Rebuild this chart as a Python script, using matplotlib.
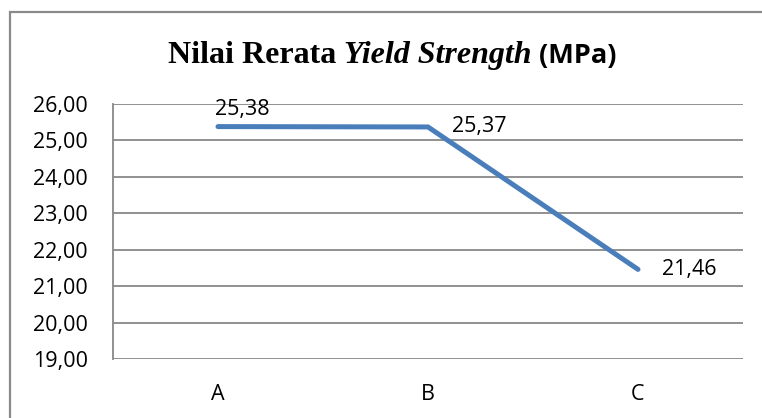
import matplotlib
matplotlib.use("Agg")
import matplotlib.pyplot as plt
from matplotlib.patches import Rectangle

categories = ["A", "B", "C"]
values = [25.38, 25.37, 21.46]
y_ticks = [19, 20, 21, 22, 23, 24, 25, 26]


def comma(v):
    return ("%.2f" % v).replace(".", ",")


fig = plt.figure(figsize=(7.62, 4.18), dpi=100)
ax = fig.add_axes([113 / 762, 1 - 359 / 418, 630 / 762, 255 / 418])

x = list(range(len(categories)))
ax.plot(x, values, color="#4A7EBB", lw=3.6, solid_capstyle="round", solid_joinstyle="miter", zorder=3)

ax.set_xlim(-0.5, len(categories) - 0.5)
ax.set_ylim(min(y_ticks), max(y_ticks))
ax.set_yticks(y_ticks)
ax.set_yticklabels([comma(t) for t in y_ticks])
ax.set_xticks(x)
ax.set_xticklabels(categories)
ax.tick_params(length=0, labelsize=15.5, pad=18)
ax.tick_params(axis="y", pad=18)
for lab in ax.get_xticklabels() + ax.get_yticklabels():
    lab.set_family("Open Sans")

ax.grid(axis="y", color="#888888", lw=1.3)
ax.set_axisbelow(True)
for s in ["top", "right", "bottom"]:
    ax.spines[s].set_visible(False)
ax.spines["left"].set_color("#888888")
ax.spines["left"].set_linewidth(1.3)

# data labels
lab_kw = dict(fontsize=15.5, family="Open Sans", color="black")
ax.annotate(comma(values[0]), (x[0], values[0]), xytext=(-2, 5), textcoords="offset points",
            ha="left", va="bottom", **lab_kw)
for i in [1, 2]:
    ax.annotate(comma(values[i]), (x[i], values[i]), xytext=(17, 0), textcoords="offset points",
                ha="left", va="center", **lab_kw)

# outer chart border (right and bottom edges fall outside the image)
fig.patches.append(Rectangle((10 / 762, -0.5), 5, 1 - 12 / 418 + 0.5, transform=fig.transFigure,
                             fill=False, edgecolor="#8a8a8a", lw=1.6))

# title in mixed fonts
parts = [
    ("Nilai Rerata ", dict(family="Liberation Serif", weight="bold", style="normal")),
    ("Yield Strength", dict(family="Liberation Serif", weight="bold", style="italic")),
    (" (MPa)", dict(family="Open Sans", weight="bold", style="normal", size=19.5)),
]
renderer = fig.canvas.get_renderer()
texts = []
xpos = 0
for s, kw in parts:
    kw = dict(kw)
    size = kw.pop("size", 23)
    t = fig.text(xpos, 1 - 63 / 418, s, fontsize=size, va="baseline", ha="left", **kw)
    texts.append(t)
    bb = t.get_window_extent(renderer)
    xpos += bb.width / fig.bbox.width
total = xpos
start = 392 / 762 - total / 2
cur = start
for t in texts:
    bb = t.get_window_extent(renderer)
    t.set_x(cur)
    cur += bb.width / fig.bbox.width

fig.savefig("out.png", dpi=100)
